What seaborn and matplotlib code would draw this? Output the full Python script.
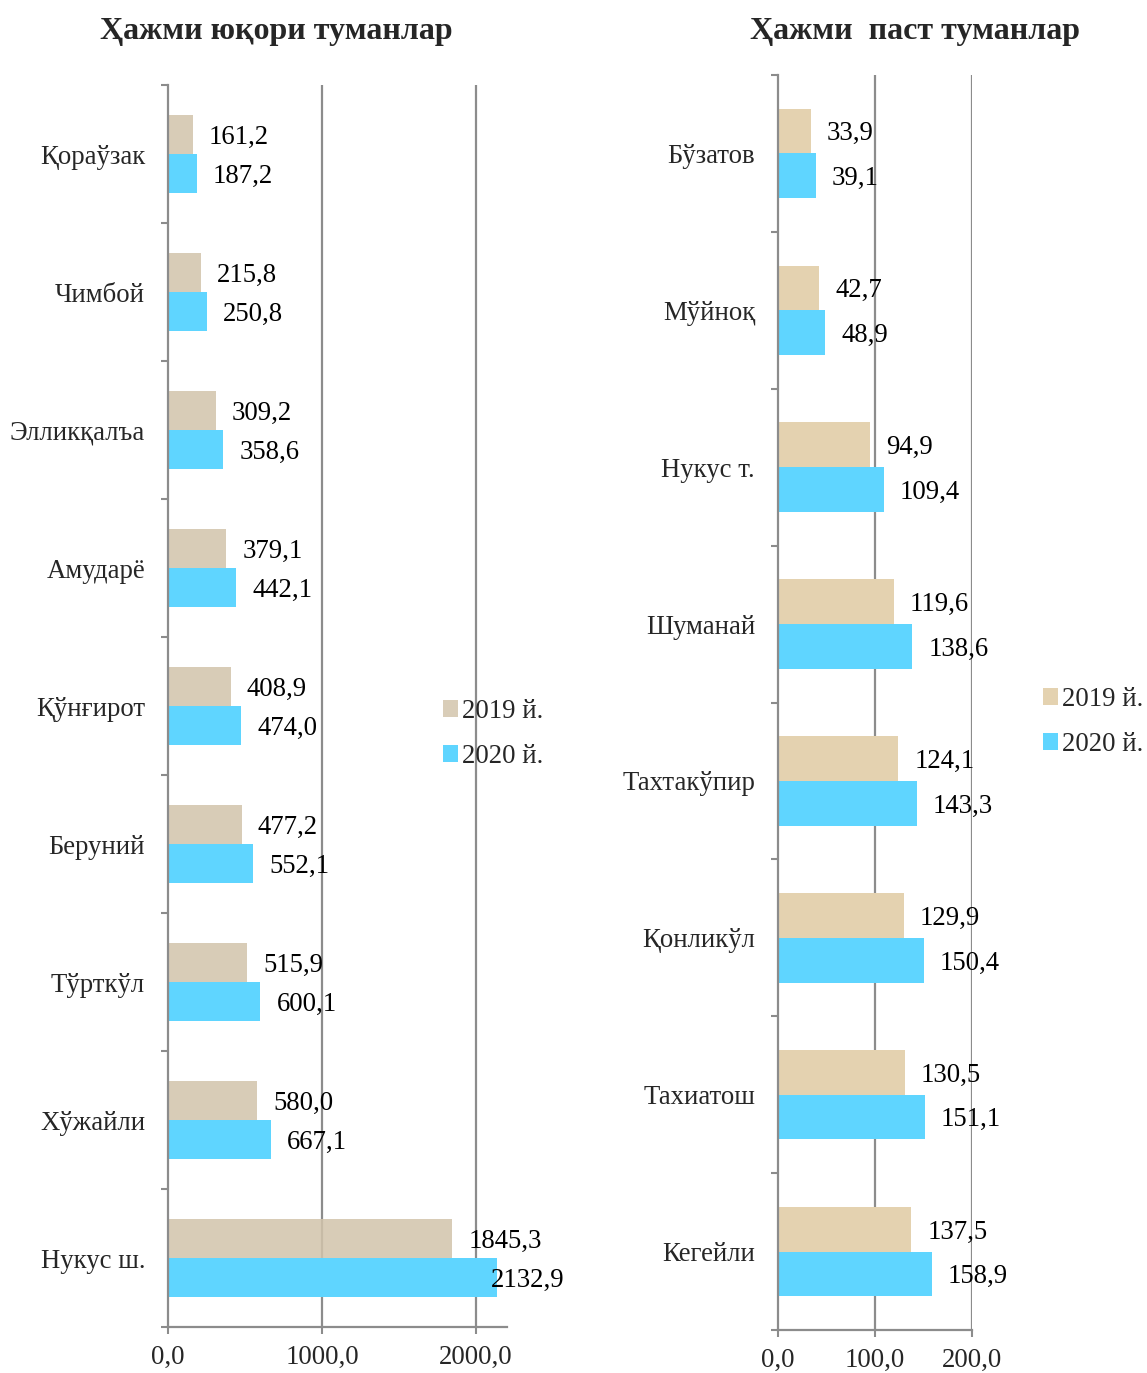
import matplotlib
matplotlib.use("Agg")
import matplotlib.pyplot as plt
from matplotlib.patches import Patch
import seaborn as sns
import pandas as pd
import numpy as np

# ---- data ----
left_cats = ["Қораўзак", "Чимбой", "Элликқалъа", "Амударё", "Қўнғирот",
             "Беруний", "Тўрткўл", "Хўжайли", "Нукус ш."]
left_2019 = [161.2, 215.8, 309.2, 379.1, 408.9, 477.2, 515.9, 580.0, 1845.3]
left_2020 = [187.2, 250.8, 358.6, 442.1, 474.0, 552.1, 600.1, 667.1, 2132.9]

right_cats = ["Бўзатов", "Мўйноқ", "Нукус т.", "Шуманай", "Тахтакўпир",
              "Қонликўл", "Тахиатош", "Кегейли"]
right_2019 = [33.9, 42.7, 94.9, 119.6, 124.1, 129.9, 130.5, 137.5]
right_2020 = [39.1, 48.9, 109.4, 138.6, 143.3, 150.4, 151.1, 158.9]

series_names = ["2019 й.", "2020 й."]
left_title = "Ҳажми юқори туманлар"
right_title = "Ҳажми  паст туманлар"
left_ticks = [0, 1000, 2000]
right_ticks = [0, 100, 200]

sns.set_theme(style="white")
plt.rcParams["font.family"] = ["Liberation Serif", "DejaVu Serif"]

FS = 19.3
GRID = "#8c8c8c"
BLUE = "#5FD5FF"
PAD = 11.5

fig = plt.figure(figsize=(11.47, 13.73), dpi=100)
axL = fig.add_axes([168/1147, 1-1327/1373, (507-168)/1147, (1327-85)/1373])
axR = fig.add_axes([778/1147, 1-1330/1373, (972-778)/1147, (1330-75)/1373])


def fmt(v):
    return f"{v:.1f}".replace(".", ",")


def draw(ax, cats, v19, v20, xmax, ticks, c19, alpha19):
    df = pd.DataFrame({
        "cat": cats * 2,
        "val": v19 + v20,
        "year": [series_names[0]] * len(cats) + [series_names[1]] * len(cats),
    })
    sns.barplot(data=df, y="cat", x="val", hue="year", orient="h",
                order=cats, hue_order=series_names,
                palette=[c19, BLUE], width=0.57, saturation=1,
                linewidth=0, legend=False, ax=ax, zorder=3)
    for p in ax.containers[0]:
        p.set_alpha(alpha19)
    anns = []
    for cont, vals in zip(ax.containers, [v19, v20]):
        a = ax.bar_label(cont, labels=[fmt(v) for v in vals], padding=PAD,
                         fontsize=FS, color="black")
        for t in a:
            t.xyann = (PAD, -2)
        anns.append(a)
    ax.set_xlim(0, xmax)
    ax.set_ylim(len(cats) - 0.5, -0.5)
    ax.set_xticks(ticks)
    ax.set_xticklabels([fmt(t) for t in ticks], fontsize=FS)
    ax.set_yticks(range(len(cats)))
    ax.set_yticklabels(cats, fontsize=FS)
    ax.set_yticks(np.arange(-0.5, len(cats), 1.0), minor=True)
    ax.tick_params(axis="y", which="major", length=0, pad=16.5)
    ax.tick_params(axis="y", which="minor", length=5, width=1.5, color=GRID,
                   direction="out", left=True)
    ax.tick_params(axis="x", which="major", length=5, width=1.5, color=GRID,
                   direction="out", bottom=True, pad=8)
    ax.set_xlabel("")
    ax.set_ylabel("")
    for t in ticks[1:]:
        ax.axvline(t, color=GRID, lw=1.6, zorder=1)
    for s in ["top", "right"]:
        ax.spines[s].set_visible(False)
    for s in ["left", "bottom"]:
        ax.spines[s].set_color(GRID)
        ax.spines[s].set_linewidth(1.6)
        ax.spines[s].set_zorder(4)
    return anns


annsL = draw(axL, left_cats, left_2019, left_2020, 2200, left_ticks, "#D2C4AB", 0.85)
draw(axR, right_cats, right_2019, right_2020, 200, right_ticks, "#E4D2B0", 1.0)
# the longest 2020 label sits over the bar end, as in the source
annsL[1][-1].xyann = (-4, -2)

fig.text(276/1147, 1-31/1373, left_title, ha="center", va="center",
         fontsize=23, fontweight="bold")
fig.text(915/1147, 1-31/1373, right_title, ha="center", va="center",
         fontsize=23, fontweight="bold")


def legend(x, y, c19):
    handles = [Patch(facecolor=c19, edgecolor="none"),
               Patch(facecolor=BLUE, edgecolor="none")]
    fig.legend(handles, series_names, loc="center left",
               bbox_to_anchor=(x, y), frameon=False, fontsize=FS,
               handlelength=0.55, handleheight=0.55, handletextpad=0.15,
               labelspacing=0.75, borderaxespad=0, borderpad=0)


legend(443/1147, 1-734/1373, "#D9CDB8")
legend(1043/1147, 1-722/1373, "#E4D2B0")

fig.savefig("out.png", dpi=100)
